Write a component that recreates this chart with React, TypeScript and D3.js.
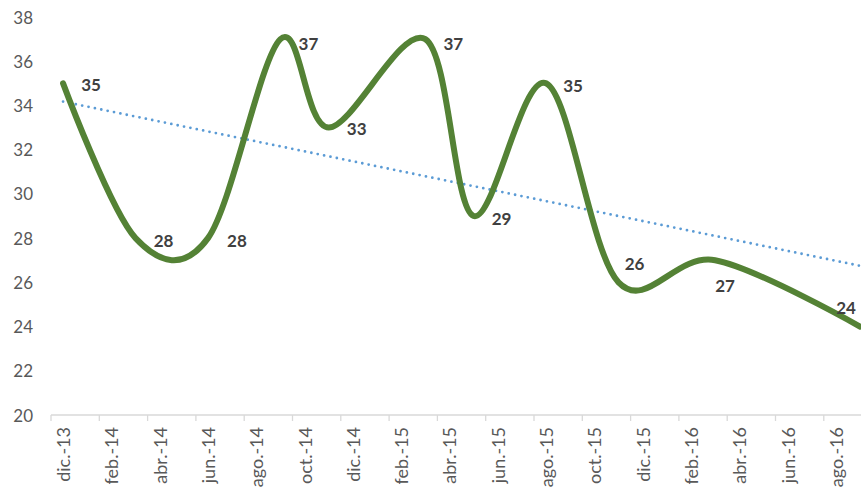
import React, { useEffect, useRef } from "react";
import * as d3 from "d3";

// months of each reading (yyyy-mm) and the value read
const months = ["2013-12", "2014-03", "2014-06", "2014-09", "2014-11", "2015-03", "2015-05", "2015-08", "2015-11", "2016-03", "2016-09"];
const values = [35, 28, 28, 37, 33, 37, 29, 35, 26, 27, 24];

const yTicks = [20, 22, 24, 26, 28, 30, 32, 34, 36, 38];
const monthNames = ["ene.", "feb.", "mar.", "abr.", "may.", "jun.", "jul.", "ago.", "sep.", "oct.", "nov.", "dic."];
const axisStart = "2013-12";
const axisMonths = 34;

// label placement relative to each point (dx, dy), moved by hand in the original
const labelOffsets: [number, number][] = [
  [28, 1], [28, 2], [29, 2], [28, 4], [28, 1], [28, 4], [28, 2], [27, 2], [16, -19], [10, 25], [-14, -19],
];

const W = 861;
const H = 487;

function monthIndex(s: string) {
  const [y, m] = s.split("-").map(Number);
  const [y0, m0] = axisStart.split("-").map(Number);
  return (y - y0) * 12 + (m - m0);
}

export default function App() {
  const ref = useRef<SVGSVGElement>(null);

  useEffect(() => {
    const svg = d3.select(ref.current);
    svg.selectAll("*").remove();

    const x = d3.scaleLinear().domain([0, axisMonths]).range([51, 51 + axisMonths * 24.15]);
    const y = d3.scaleLinear().domain([20, 38]).range([415, 17]);

    const pts = months.map((m, i) => ({ i: monthIndex(m), v: values[i] }));

    // y labels
    svg.append("g")
      .selectAll("text")
      .data(yTicks)
      .join("text")
      .attr("x", 33)
      .attr("y", d => y(d))
      .attr("text-anchor", "end")
      .attr("dominant-baseline", "central")
      .attr("font-family", "Lato")
      .attr("font-size", 17)
      .attr("fill", "#595959")
      .text(d => d);

    // x axis line and ticks
    svg.append("line")
      .attr("x1", x(0)).attr("x2", x(axisMonths))
      .attr("y1", y(20)).attr("y2", y(20))
      .attr("stroke", "#d9d9d9").attr("stroke-width", 1.3);

    const tickIdx = d3.range(0, axisMonths, 2);
    svg.append("g")
      .selectAll("line")
      .data(tickIdx)
      .join("line")
      .attr("x1", d => x(d)).attr("x2", d => x(d))
      .attr("y1", y(20)).attr("y2", y(20) + 6)
      .attr("stroke", "#d9d9d9").attr("stroke-width", 1.3);

    const [y0, m0] = axisStart.split("-").map(Number);
    svg.append("g")
      .selectAll("text")
      .data(tickIdx)
      .join("text")
      .attr("transform", d => `translate(${x(d + 0.5)},${y(20) + 12}) rotate(-90)`)
      .attr("text-anchor", "end")
      .attr("dominant-baseline", "central")
      .attr("font-family", "Lato")
      .attr("font-size", 18)
      .attr("fill", "#595959")
      .text(d => {
        const t = m0 - 1 + d;
        const yr = y0 + Math.floor(t / 12);
        return `${monthNames[t % 12]}-${String(yr).slice(2)}`;
      });

    // linear trend
    const mx = d3.mean(pts, p => p.i)!;
    const my = d3.mean(pts, p => p.v)!;
    const slope = d3.sum(pts, p => (p.i - mx) * (p.v - my)) / d3.sum(pts, p => (p.i - mx) ** 2);
    const first = pts[0].i;
    const last = pts[pts.length - 1].i;
    svg.append("line")
      .attr("x1", x(first + 0.5)).attr("y1", y(my + slope * (first - mx)))
      .attr("x2", x(last + 0.5)).attr("y2", y(my + slope * (last - mx)))
      .attr("stroke", "#5b9bd5")
      .attr("stroke-width", 2.8)
      .attr("stroke-linecap", "round")
      .attr("stroke-dasharray", "0 6.5");

    // smoothed series
    const line = d3.line<{ i: number; v: number }>()
      .x(p => x(p.i + 0.5))
      .y(p => y(p.v))
      .curve(d3.curveCatmullRom.alpha(0));
    svg.append("path")
      .attr("d", line(pts))
      .attr("fill", "none")
      .attr("stroke", "#548235")
      .attr("stroke-width", 6)
      .attr("stroke-linecap", "round");

    // data labels
    svg.append("g")
      .selectAll("text")
      .data(pts)
      .join("text")
      .attr("x", (p, k) => x(p.i + 0.5) + labelOffsets[k][0])
      .attr("y", (p, k) => y(p.v) + labelOffsets[k][1])
      .attr("text-anchor", "middle")
      .attr("dominant-baseline", "central")
      .attr("font-family", "Lato")
      .attr("font-weight", "bold")
      .attr("font-size", 17)
      .attr("fill", "#404040")
      .text(p => p.v);
  }, []);

  return (
    <svg ref={ref} width={W} height={H} style={{ position: "absolute", left: 0, top: 0, background: "#fff" }} />
  );
}
